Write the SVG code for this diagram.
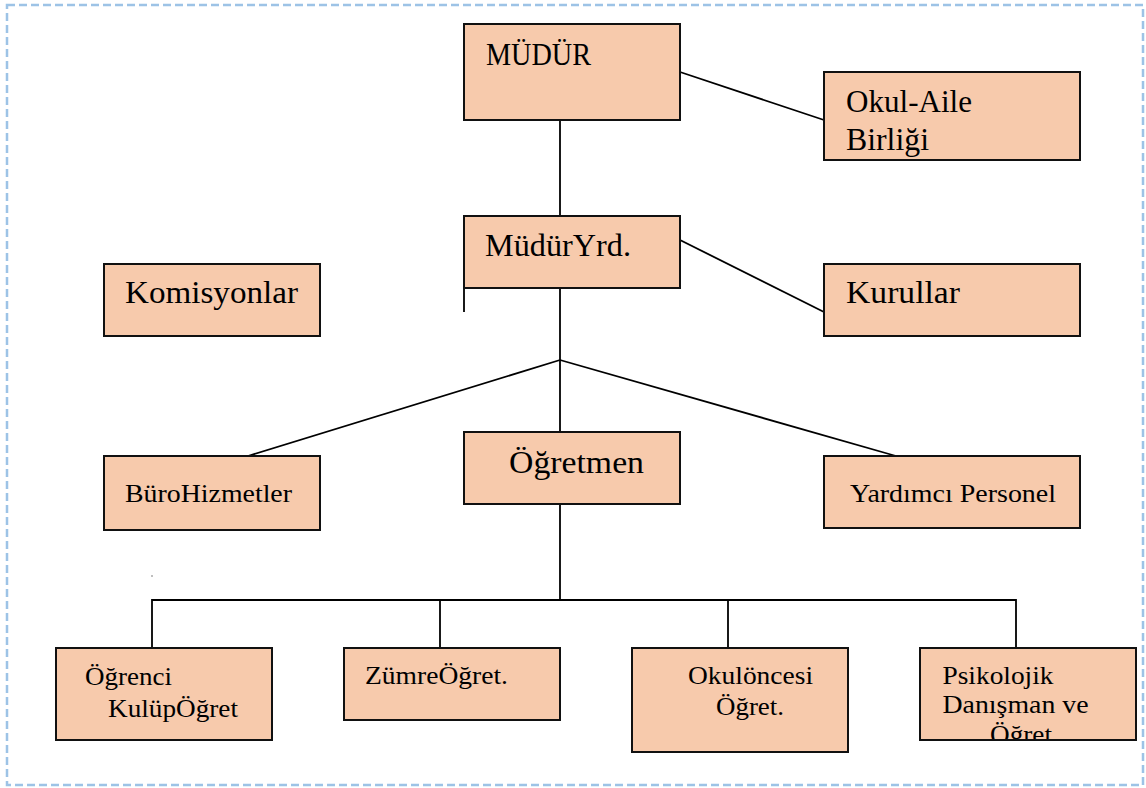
<svg xmlns="http://www.w3.org/2000/svg" width="1146" height="788" viewBox="0 0 1146 788">
  <style>
    .box { fill: #F7CAAC; stroke: #111; stroke-width: 2; }
    .ln { stroke: #000; stroke-width: 1.8; fill: none; }
    .big { font-family: "Liberation Serif", serif; font-size: 32px; fill: #000; }
    .sm { font-family: "Liberation Serif", serif; font-size: 26px; fill: #000; }
  </style>
  <defs>
    <clipPath id="clipPsi"><rect x="920" y="648" width="217" height="92"/></clipPath>
  </defs>
  <rect width="1146" height="788" fill="#fff"/>
  <rect x="7" y="5" width="1136" height="780" fill="none" stroke="#9DC3E6" stroke-width="2.5" stroke-dasharray="8 4"/>

  <g id="connectors">
    <line class="ln" x1="560" y1="120" x2="560" y2="216"/>
    <line class="ln" x1="680" y1="72" x2="824" y2="120"/>
    <line class="ln" x1="680" y1="240" x2="824" y2="312"/>
    <line class="ln" x1="464" y1="288" x2="464" y2="312"/>
    <line class="ln" x1="560" y1="288" x2="560" y2="432"/>
    <line class="ln" x1="560" y1="360" x2="248" y2="456"/>
    <line class="ln" x1="560" y1="360" x2="896" y2="456"/>
    <line class="ln" x1="560" y1="504" x2="560" y2="600"/>
    <polyline class="ln" points="152,648 152,600 1016,600 1016,648"/>
    <line class="ln" x1="440" y1="600" x2="440" y2="648"/>
    <line class="ln" x1="728" y1="600" x2="728" y2="648"/>
    <rect x="151.5" y="575.5" width="1" height="1" fill="#000"/>
  </g>

  <g id="mudur">
    <rect class="box" x="464" y="24" width="216" height="96"/>
    <text class="big" x="486" y="65" textLength="105" lengthAdjust="spacingAndGlyphs">MÜDÜR</text>
  </g>
  <g id="okul-aile">
    <rect class="box" x="824" y="72" width="256" height="88"/>
    <text class="big" x="846" y="112" textLength="126" lengthAdjust="spacingAndGlyphs">Okul-Aile</text>
    <text class="big" x="846" y="150" textLength="83" lengthAdjust="spacingAndGlyphs">Birliği</text>
  </g>
  <g id="mudur-yrd">
    <rect class="box" x="464" y="216" width="216" height="72"/>
    <text class="big" x="485" y="256" textLength="146" lengthAdjust="spacingAndGlyphs">MüdürYrd.</text>
  </g>
  <g id="komisyonlar">
    <rect class="box" x="104" y="264" width="216" height="72"/>
    <text class="big" x="125" y="303" textLength="173" lengthAdjust="spacingAndGlyphs">Komisyonlar</text>
  </g>
  <g id="kurullar">
    <rect class="box" x="824" y="264" width="256" height="72"/>
    <text class="big" x="846" y="303" textLength="114" lengthAdjust="spacingAndGlyphs">Kurullar</text>
  </g>
  <g id="buro">
    <rect class="box" x="104" y="456" width="216" height="74"/>
    <text class="sm" x="125" y="501.5" textLength="167" lengthAdjust="spacingAndGlyphs">BüroHizmetler</text>
  </g>
  <g id="ogretmen">
    <rect class="box" x="464" y="432" width="216" height="72"/>
    <text class="big" x="509" y="472.5" textLength="135" lengthAdjust="spacingAndGlyphs">Öğretmen</text>
  </g>
  <g id="yardimci">
    <rect class="box" x="824" y="456" width="256" height="72"/>
    <text class="sm" x="850" y="501.5" textLength="206" lengthAdjust="spacingAndGlyphs">Yardımcı Personel</text>
  </g>
  <g id="ogrenci-kulup">
    <rect class="box" x="56" y="648" width="216" height="92"/>
    <text class="sm" x="85" y="685" textLength="87" lengthAdjust="spacingAndGlyphs">Öğrenci</text>
    <text class="sm" x="108" y="716.5" textLength="130" lengthAdjust="spacingAndGlyphs">KulüpÖğret</text>
  </g>
  <g id="zumre">
    <rect class="box" x="344" y="648" width="216" height="72"/>
    <text class="sm" x="365" y="684" textLength="143" lengthAdjust="spacingAndGlyphs">ZümreÖğret.</text>
  </g>
  <g id="okuloncesi">
    <rect class="box" x="632" y="648" width="216" height="104"/>
    <text class="sm" x="688" y="684" textLength="125" lengthAdjust="spacingAndGlyphs">Okulöncesi</text>
    <text class="sm" x="716" y="715" textLength="68" lengthAdjust="spacingAndGlyphs">Öğret.</text>
  </g>
  <g id="psikolojik">
    <rect class="box" x="920" y="648" width="216" height="92"/>
    <g clip-path="url(#clipPsi)">
      <text class="sm" x="942.5" y="684" textLength="111" lengthAdjust="spacingAndGlyphs">Psikolojik</text>
      <text class="sm" x="942.5" y="713" textLength="146" lengthAdjust="spacingAndGlyphs">Danışman ve</text>
      <text class="sm" x="990" y="743" textLength="62" lengthAdjust="spacingAndGlyphs">Öğret</text>
    </g>
    <rect x="920" y="648" width="216" height="92" fill="none" stroke="#111" stroke-width="2"/>
  </g>
</svg>
